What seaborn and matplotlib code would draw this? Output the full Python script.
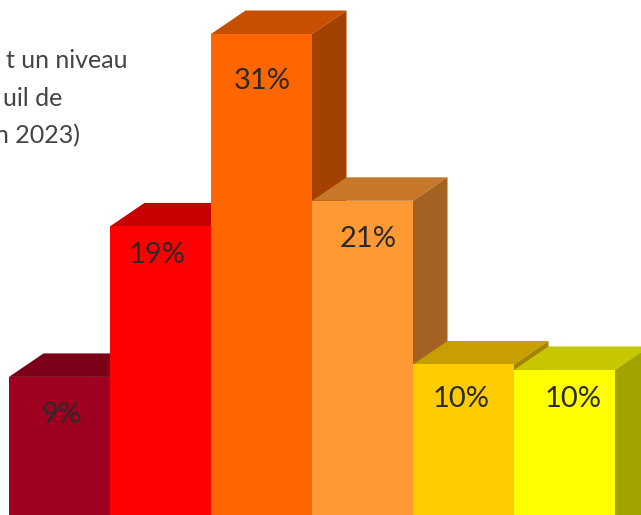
import matplotlib
matplotlib.use("Agg")
import matplotlib.pyplot as plt
import pandas as pd
import seaborn as sns
from matplotlib.colors import to_rgb

categories = ["c1", "c2", "c3", "c4", "c5", "c6"]
heights = [8.9, 18.6, 31.0, 20.25, 9.7, 9.35]
labels = ["9%", "19%", "31%", "21%", "10%", "10%"]
colors = ["#A00020", "#FF0000", "#FF6600", "#FF9933", "#FFCC00", "#FFFF00"]
text_lines = ["t un niveau", "uil de", "n 2023)"]

# layout, in pixels of the 641x515 picture
W, H = 641, 515
BAR_PX = 101
LEFT_PX = 9
PX_PER_UNIT = 481 / 31
DEPTH_X = 34.5 / BAR_PX
DEPTH_Y = 23.5 / PX_PER_UNIT
label_dx = [2, -3, 1, 6, -2, 9]
label_dy = [38, 29, 47, 38, 35, 29]
text_right = [127, 62, 80]
text_y = [60, 98, 136]


def shade(color, factor):
    return tuple(c * factor for c in to_rgb(color))


sns.set_theme(style="white")
plt.rcParams["font.family"] = ["Lato", "DejaVu Sans"]

fig = plt.figure(figsize=(W / 100, H / 100), dpi=100)
ax = fig.add_axes([0, 0, 1, 1])

df = pd.DataFrame({"cat": categories, "val": heights})
sns.barplot(data=df, x="cat", y="val", hue="cat", palette=colors, width=1,
            legend=False, saturation=1, linewidth=0, ax=ax)

ax.set_xlim(-0.5 - LEFT_PX / BAR_PX, -0.5 + (W - LEFT_PX) / BAR_PX)
ax.set_ylim(0, H / PX_PER_UNIT)
ax.axis("off")

# fake 3d: top and side faces, painted left to right
for i, (bar, h, col) in enumerate(zip(ax.patches, heights, colors)):
    x0, x1 = i - 0.5, i + 0.5
    ax.fill([x0, x1, x1 + DEPTH_X, x0 + DEPTH_X],
            [h, h, h + DEPTH_Y, h + DEPTH_Y],
            color=shade(col, 0.78), lw=0, zorder=3 * i + 1)
    ax.fill([x1, x1 + DEPTH_X, x1 + DEPTH_X, x1],
            [h, h + DEPTH_Y, 0, -DEPTH_Y],
            color=shade(col, 0.64), lw=0, zorder=3 * i + 1)
    bar.set_zorder(3 * i + 2)
    ax.text(i + label_dx[i] / BAR_PX, h - label_dy[i] / PX_PER_UNIT, labels[i],
            ha="center", va="center", fontsize=21, color="#2a2a2a",
            fontweight="normal", zorder=100)

for line, xr, yt in zip(text_lines, text_right, text_y):
    fig.text(xr / W, 1 - yt / H, line, ha="right", va="center", fontsize=18,
             color="#444444", fontweight="normal")

fig.savefig("out.png", dpi=100)
